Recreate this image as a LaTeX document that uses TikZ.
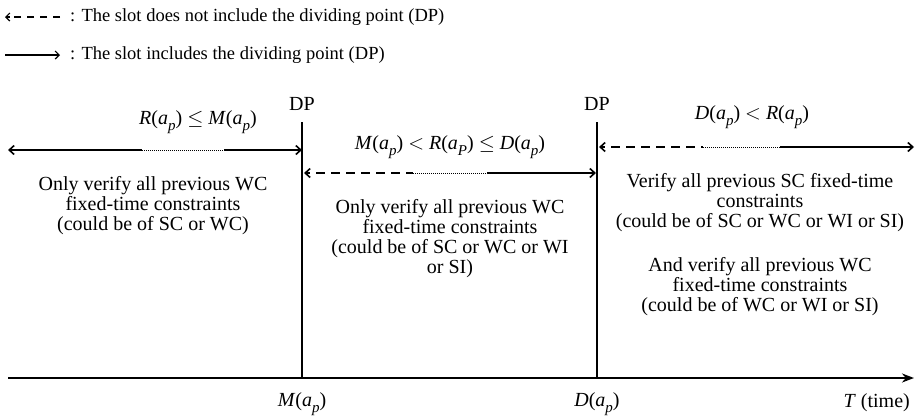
\documentclass[tikz,border=0pt]{standalone}
\usepackage{fontspec}
\setmainfont{Liberation Serif}
\usetikzlibrary{arrows.meta}
\newcommand{\sbp}[1]{\raisebox{-5.5pt}{\fontsize{15}{15}\selectfont\textit{#1}}}
\newcommand{\apx}{\textit{a}\sbp{p}}
\newcommand{\aPx}{\textit{a}\sbp{P}}
\newcommand{\rle}{\ $\leq$\ }
\newcommand{\rlt}{\ $<$\ }
\begin{document}
\begin{tikzpicture}[x=1pt,y=-1pt,
  >={Straight Barb[length=5pt,width=9pt,line width=1.6pt]},
  txt/.style={font=\fontsize{20}{20}\selectfont, inner sep=0pt},
  legtxt/.style={font=\fontsize{18.5}{20}\selectfont, inner sep=0pt},
  blk/.style={txt, align=center},
  main/.style={line width=1.8pt},
  dotseg/.style={line width=1pt, dash pattern=on 1pt off 1pt},
  dashseg/.style={line width=1.8pt, dash pattern=on 9pt off 6pt},
  divline/.style={line width=1.6pt}]
\useasboundingbox (0,0) rectangle (919,418);
% legend
\coordinate (l1a) at (5,17); \coordinate (l1b) at (60,17);
\coordinate (l2a) at (5,55); \coordinate (l2b) at (60,55);
\draw[line width=1.3pt, dash pattern=on 7pt off 6pt] (l1b) -- ([xshift=5pt]l1a);
\draw[line width=1.3pt, {Straight Barb[length=4pt,width=8pt,line width=1.2pt]}-] (l1a) -- ([xshift=5pt]l1a);
\draw[line width=1.3pt, -{Straight Barb[length=4pt,width=8pt,line width=1.2pt]}] (l2a) -- (l2b);
\node[legtxt, anchor=west] (leg1) at (70,17) {: The slot does not include the dividing point (DP)};
\node[legtxt, anchor=west] (leg2) at (70,55) {: The slot includes the dividing point (DP)};
% dividing lines
\coordinate (m1) at (302,122); \coordinate (m0) at (302,378);
\coordinate (d1) at (597,122); \coordinate (d0) at (597,378);
\draw[divline] (m1) -- (m0);
\draw[divline] (d1) -- (d0);
\node[txt] (dp1) at (302,104) {DP};
\node[txt] (dp2) at (597,104) {DP};
% axis
\coordinate (ax0) at (8,378); \coordinate (ax1) at (914,378);
\draw[line width=2pt, -{Stealth[length=12pt,width=9pt]}] (ax0) -- (ax1);
\node[txt] (ml) at (302,404) {\textit{M}(\apx)};
\node[txt] (dl) at (597,404) {\textit{D}(\apx)};
\node[txt, anchor=east] (tl) at (910,403) {\textit{T} (time)};
% top-left slot
\coordinate (a1) at (8,150); \coordinate (a2) at (142,150); \coordinate (a3) at (224,150); \coordinate (a4) at (302,150);
\draw[main, <-] (a1) -- (a2);
\draw[dotseg] (a2) -- (a3);
\draw[main, ->] (a3) -- (a4);
\node[txt] (lab1) at (198,122) {\textit{R}(\apx)\rle\textit{M}(\apx)};
% middle slot
\coordinate (b1) at (304,173); \coordinate (b2) at (413,173); \coordinate (b3) at (487,173); \coordinate (b4) at (596,173);
\draw[main, <-] (b1) -- ([xshift=6pt]b1);
\draw[dashseg] ([xshift=12pt]b1) -- (b2);
\draw[dotseg] (b2) -- (b3);
\draw[main, ->] (b3) -- (b4);
\node[txt] (lab2) at (450,147) {\textit{M}(\apx)\rlt\textit{R}(\aPx)\rle\textit{D}(\apx)};
% right slot
\coordinate (c1) at (599,147); \coordinate (c2) at (703,147); \coordinate (c3) at (780,147); \coordinate (c4) at (914,147);
\draw[main, <-] (c1) -- ([xshift=6pt]c1);
\draw[dashseg] ([xshift=12pt]c1) -- (c2);
\draw[dotseg] (c2) -- (c3);
\draw[main, ->] (c3) -- (c4);
\node[txt] (lab3) at (752,117) {\textit{D}(\apx)\rlt\textit{R}(\apx)};
% blocks
\node[blk, anchor=north] (t1) at (153,176) {Only verify all previous WC\\fixed-time constraints\\(could be of SC or WC)};
\node[blk, anchor=north] (t2) at (450,199) {Only verify all previous WC\\fixed-time constraints\\(could be of SC or WC or WI\\or SI)};
\node[blk, anchor=north] (t3) at (760,173) {Verify all previous SC fixed-time\\constraints\\(could be of SC or WC or WI or SI)};
\node[blk, anchor=north] (t4) at (760,257) {And verify all previous WC\\fixed-time constraints\\(could be of WC or WI or SI)};
\end{tikzpicture}
\end{document}
